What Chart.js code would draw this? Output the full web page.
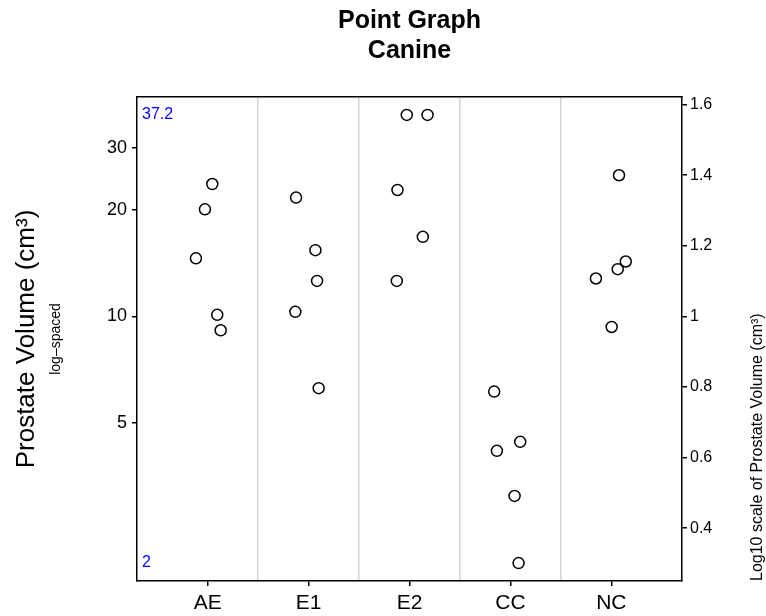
<!DOCTYPE html>
<html>
<head>
<meta charset="utf-8">
<script src="https://cdn.jsdelivr.net/npm/chart.js@4.4.1/dist/chart.umd.min.js"></script>
<style>
    html, body { margin: 0; padding: 0; background: #fff; }
</style>
</head>
<body>
<canvas id="myChart" width="766" height="616"></canvas>
<script>
var groups = ['AE', 'E1', 'E2', 'CC', 'NC'];

// prostate volume (cm3) of each dog, per group
var volAE = [23.7, 20.1, 14.6, 10.1, 9.13];
var volE1 = [21.7, 15.4, 12.6, 10.3, 6.26];
var volE2 = [37.2, 37.2, 22.8, 16.8, 12.6];
var volCC = [6.12, 4.41, 4.16, 3.10, 2.0];
var volNC = [25.1, 14.3, 13.6, 12.8, 9.33];

// jittered x position of each point (group 1..5)
var jitAE = [1.046, 0.973, 0.884, 1.095, 1.129];
var jitE1 = [1.876, 2.068, 2.084, 1.869, 2.100];
var jitE2 = [2.973, 3.179, 2.881, 3.132, 2.874];
var jitCC = [3.839, 4.097, 3.866, 4.041, 4.081];
var jitNC = [5.076, 5.143, 5.063, 4.847, 5.003];

var leftTicks = [5, 10, 20, 30];
var rightTicks = [0.4, 0.6, 0.8, 1, 1.2, 1.4, 1.6];
var sepTicks = [1.5, 2.5, 3.5, 4.5];

var FONT = "'Liberation Sans', Arial, Helvetica, sans-serif";

var allVol = [volAE, volE1, volE2, volCC, volNC];
var allJit = [jitAE, jitE1, jitE2, jitCC, jitNC];

var pts = [];
var volMin = Infinity, volMax = -Infinity;
for (var g = 0; g < allVol.length; g++) {
    for (var i = 0; i < allVol[g].length; i++) {
        pts.push({ x: allJit[g][i], y: Math.log10(allVol[g][i]) });
        volMin = Math.min(volMin, allVol[g][i]);
        volMax = Math.max(volMax, allVol[g][i]);
    }
}
// R style 4% padding on the log range
var lo = Math.log10(volMin), hi = Math.log10(volMax);
var yMin = lo - 0.04 * (hi - lo);
var yMax = hi + 0.04 * (hi - lo);

// titles, axis labels and the min / max notes
var textPlugin = {
    id: 'texts',
    afterDraw: function (chart) {
        var c = chart.ctx;
        var a = chart.chartArea;
        var cx = (a.left + a.right) / 2;
        var cy = (a.top + a.bottom) / 2;
        c.save();
        c.fillStyle = '#000';
        c.textAlign = 'center';
        c.textBaseline = 'alphabetic';
        c.font = 'bold 25px ' + FONT;
        c.fillText('Point Graph', cx, 28);
        c.fillText('Canine', cx, 58);

        // left axis titles
        c.save();
        c.translate(34, cy);
        c.rotate(-Math.PI / 2);
        c.font = '26px ' + FONT;
        c.fillText('Prostate Volume (cm\u00B3)', 0, 0);
        c.restore();

        c.save();
        c.translate(60, cy);
        c.rotate(-Math.PI / 2);
        c.font = '14px ' + FONT;
        c.fillText('log\u2013spaced', 0, 0);
        c.restore();

        // right axis title, starts at the bottom of the plot
        c.save();
        c.translate(762, a.bottom);
        c.rotate(-Math.PI / 2);
        c.textAlign = 'left';
        c.font = '16px ' + FONT;
        c.fillText('Log10 scale of Prostate Volume (cm\u00B3)', 0, 0);
        c.restore();

        // max / min notes
        var ys = chart.scales.y;
        c.fillStyle = '#0000ff';
        c.font = '16px ' + FONT;
        c.textAlign = 'left';
        c.textBaseline = 'middle';
        c.fillText(String(volMax), a.left + 5, ys.getPixelForValue(Math.log10(volMax)));
        c.fillText(String(volMin), a.left + 5, ys.getPixelForValue(Math.log10(volMin)));
        c.restore();
    }
};

var ctx = document.getElementById('myChart');
var chart = new Chart(ctx, {
    type: 'scatter',
    data: {
        datasets: [{
            data: pts,
            pointStyle: 'circle',
            pointRadius: 5.5,
            pointHoverRadius: 5.5,
            pointBorderWidth: 1.5,
            borderColor: '#000',
            backgroundColor: 'rgba(0,0,0,0)'
        }]
    },
    options: {
        responsive: false,
        animation: false,
        events: [],
        layout: { padding: { top: 97, left: 0, right: 0, bottom: 0 } },
        plugins: {
            legend: { display: false },
            tooltip: { enabled: false },
            title: { display: false }
        },
        scales: {
            x: {
                type: 'linear',
                position: 'bottom',
                min: 0.3,
                max: 5.7,
                afterBuildTicks: function (s) {
                    s.ticks = groups.map(function (g, i) { return { value: i + 1 }; });
                },
                afterFit: function (s) { s.height = 35; },
                ticks: {
                    callback: function (v, i) { return groups[i]; },
                    color: '#000',
                    font: { size: 21, family: FONT },
                    padding: 5,
                    autoSkip: false,
                    maxRotation: 0
                },
                grid: { drawOnChartArea: false, drawTicks: true, tickLength: 5, color: '#000', lineWidth: 1.5 },
                border: { display: true, color: '#000', width: 1.5 }
            },
            xsep: {
                type: 'linear',
                position: 'top',
                min: 0.3,
                max: 5.7,
                afterBuildTicks: function (s) {
                    s.ticks = sepTicks.map(function (v) { return { value: v }; });
                },
                afterFit: function (s) { s.height = 0; },
                ticks: { display: false },
                grid: { drawOnChartArea: true, drawTicks: false, color: '#d3d3d3', lineWidth: 1.5 },
                border: { display: true, color: '#000', width: 1.5 }
            },
            y: {
                type: 'linear',
                position: 'left',
                min: yMin,
                max: yMax,
                afterBuildTicks: function (s) {
                    s.ticks = leftTicks.map(function (v) { return { value: Math.log10(v) }; });
                },
                afterFit: function (s) { s.width = 137; },
                ticks: {
                    callback: function (v, i) { return String(leftTicks[i]); },
                    color: '#000',
                    font: { size: 18, family: FONT },
                    padding: 5
                },
                grid: { drawOnChartArea: false, drawTicks: true, tickLength: 5, color: '#000', lineWidth: 1.5 },
                border: { display: true, color: '#000', width: 1.5 }
            },
            y2: {
                type: 'linear',
                position: 'right',
                min: yMin,
                max: yMax,
                afterBuildTicks: function (s) {
                    s.ticks = rightTicks.map(function (v) { return { value: v }; });
                },
                afterFit: function (s) { s.width = 84; },
                ticks: {
                    callback: function (v, i) { return String(rightTicks[i]); },
                    color: '#000',
                    font: { size: 16, family: FONT },
                    padding: 3
                },
                grid: { drawOnChartArea: false, drawTicks: true, tickLength: 5, color: '#000', lineWidth: 1.5 },
                border: { display: true, color: '#000', width: 1.5 }
            }
        }
    },
    plugins: [textPlugin]
});
</script>
</body>
</html>
